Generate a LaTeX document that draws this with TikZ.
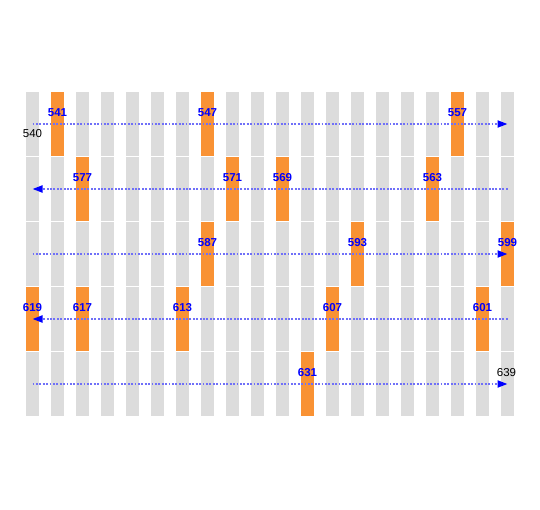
\documentclass[tikz,border=0pt]{standalone}
\usepackage{fontspec}
\setsansfont{Liberation Sans}
\usetikzlibrary{arrows.meta}
\definecolor{cellgray}{HTML}{DCDCDC}
\definecolor{primeorange}{HTML}{F99234}
\definecolor{pathblue}{HTML}{7070F8}

\begin{document}
\begin{tikzpicture}[x=1pt,y=-1pt,font=\sffamily,
  cell/.style={fill=cellgray,minimum width=13pt,minimum height=64pt,inner sep=0pt},
  prime/.style={cell,fill=primeorange},
  num/.style={font=\sffamily\bfseries\fontsize{11.5}{11.5}\selectfont,text=blue,inner sep=0pt},
  endnum/.style={font=\sffamily\fontsize{11.5}{11.5}\selectfont,text=black,inner sep=0pt},
  walk/.style={pathblue,line width=1.9pt,dash pattern=on 1.9pt off 1.5pt,
               -{Triangle[length=10pt,width=7pt,color=blue]}}]
\useasboundingbox (0,0) rectangle (540,510);

% ===== grid of cells: 5 rows x 20 columns =====
\foreach \r in {0,...,4}{\foreach \c in {0,...,19}{
  \node[cell] (c\r-\c) at (32.5+25*\c,124+65*\r) {};}}

% ===== primes =====
\foreach \n/\c/\r in {541/1/0,547/7/0,557/17/0,
                      577/2/1,571/8/1,569/10/1,563/16/1,
                      587/7/2,593/13/2,599/19/2,
                      619/0/3,617/2/3,613/6/3,607/12/3,601/18/3,
                      631/11/4}{
  \node[prime] (p\n) at (c\r-\c) {};
  \node[num] (l\n) at ([yshift=-20.5pt]p\n.north) {\n};}

% ===== snake path =====
\draw[walk] (c0-0.center) -- (c0-19.center);
\draw[walk] (c1-19.center) -- (c1-0.center);
\draw[walk] (c2-0.center) -- (c2-19.center);
\draw[walk] (c3-19.center) -- (c3-0.center);
\draw[walk] (c4-0.center) -- (c4-19.center);

% ===== first and last number =====
\node[endnum] (first) at ([yshift=-10pt]c0-0.center) {540};
\node[endnum] (last) at ([xshift=-1pt,yshift=11pt]c4-19.center) {639};

\end{tikzpicture}
\end{document}
